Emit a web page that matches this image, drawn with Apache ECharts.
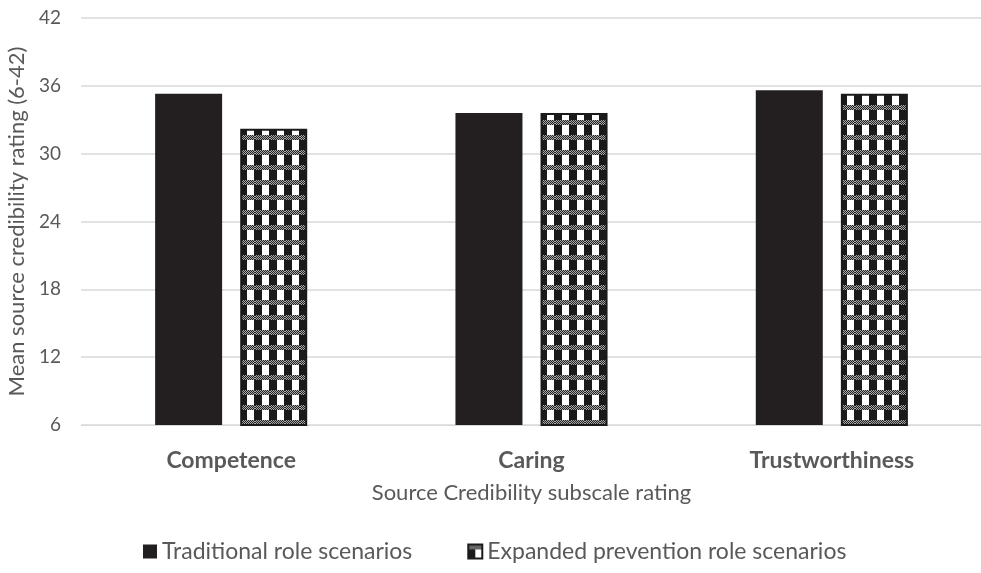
<!DOCTYPE html>
<html>
<head>
<meta charset="utf-8">
<script src="https://cdn.jsdelivr.net/npm/echarts@6/dist/echarts.min.js"></script>
<style>html,body{margin:0;padding:0;background:#fff;}#c{width:981px;height:573px;}</style>
</head>
<body>
<div id="c"></div>
<script>
const categories = ['Competence', 'Caring', 'Trustworthiness'];
const traditional = [35.3, 33.6, 35.6];
const expanded = [32.2, 33.6, 35.3];
const yTicks = [6, 12, 18, 24, 30, 36, 42];
const seriesNames = ['Traditional role scenarios', 'Expanded prevention role scenarios'];

function makePattern() {
  const c = document.createElement('canvas');
  c.width = 15; c.height = 15;
  const g = c.getContext('2d');
  g.fillStyle = '#fff';
  g.fillRect(0, 0, 15, 15);
  for (let y = 0; y < 5; y++) {
    for (let x = 0; x < 15; x++) {
      g.fillStyle = ((x + y) % 2 === 0) ? '#222' : '#aaa';
      g.fillRect(x, y, 1, 1);
    }
  }
  g.fillStyle = '#1a1a1a';
  g.fillRect(0, 5, 7, 10);
  g.fillRect(14, 5, 1, 10);
  return c;
}
const pattern = { image: makePattern(), repeat: 'repeat' };

const chart = echarts.init(document.getElementById('c'));
const font = 'Lato, "Open Sans", sans-serif';
chart.setOption({
  animation: false,
  textStyle: { fontFamily: font },
  grid: { left: 81, right: -1, top: 18, bottom: 148, containLabel: false, outerBoundsMode: 'none' },
  legend: {
    top: 535, left: 138, icon: 'rect', itemWidth: 14, itemHeight: 14, itemGap: 55,
    textStyle: { fontSize: 23, color: '#595959', fontFamily: font },
    data: seriesNames
  },
  xAxis: {
    type: 'category', data: categories,
    name: 'Source Credibility subscale rating', nameLocation: 'middle', nameGap: 57,
    nameTextStyle: { fontSize: 22, color: '#595959', fontFamily: font },
    axisLine: { lineStyle: { color: '#d9d9d9', width: 1 } },
    axisTick: { show: false },
    axisLabel: { fontSize: 23, fontWeight: 'bold', color: '#595959', margin: 24, fontFamily: font }
  },
  yAxis: {
    type: 'value', min: yTicks[0], max: yTicks[yTicks.length - 1], interval: 6,
    name: 'Mean source credibility rating (6-42)', nameLocation: 'middle', nameGap: 53,
    nameTextStyle: { fontSize: 22, color: '#595959', fontFamily: font },
    axisLine: { show: false }, axisTick: { show: false },
    axisLabel: { fontSize: 19, color: '#595959', margin: 20, fontFamily: font },
    splitLine: { lineStyle: { color: '#d9d9d9', width: 1.5 } }
  },
  series: [
    {
      name: seriesNames[0], type: 'bar', data: traditional, barWidth: 67, barGap: '27%',
      itemStyle: { color: '#231f20' }
    },
    {
      name: seriesNames[1], type: 'bar', data: expanded, barWidth: 67,
      itemStyle: { color: pattern, borderColor: '#1a1a1a', borderWidth: 2 }
    }
  ]
});
</script>
</body>
</html>
